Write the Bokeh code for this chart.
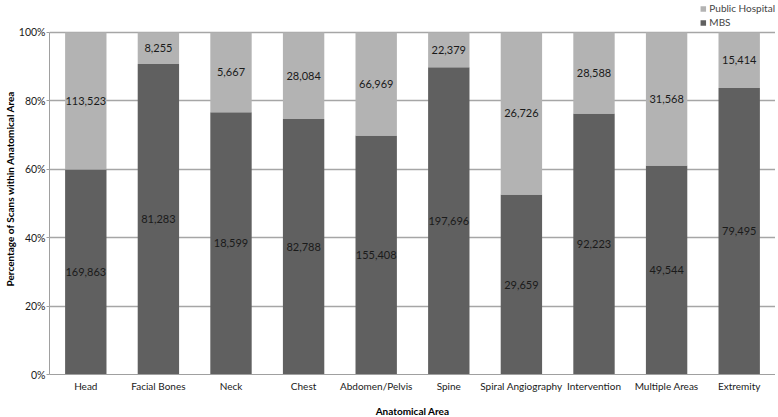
from bokeh.plotting import figure
from bokeh.models import ColumnDataSource, Legend, LegendItem, NumeralTickFormatter, FixedTicker, Range1d
from bokeh.embed import file_html
from bokeh.resources import INLINE
from bokeh.core.properties import value

categories = ["Head", "Facial Bones", "Neck", "Chest", "Abdomen/Pelvis", "Spine",
              "Spiral Angiography", "Intervention", "Multiple Areas", "Extremity"]
mbs = [169863, 81283, 18599, 82788, 155408, 197696, 29659, 92223, 49544, 79495]
public = [113523, 8255, 5667, 28084, 66969, 22379, 26726, 28588, 31568, 15414]

totals = [m + h for m, h in zip(mbs, public)]
mbs_pct = [m / t for m, t in zip(mbs, totals)]
pub_pct = [h / t for h, t in zip(public, totals)]

src = ColumnDataSource(dict(
    cat=categories,
    mbs=mbs_pct,
    pub=pub_pct,
    top=[1.0] * len(categories),
    mbs_mid=[v / 2 for v in mbs_pct],
    pub_mid=[v + (1 - v) / 2 for v in mbs_pct],
    mbs_lbl=[f"{v:,}" for v in mbs],
    pub_lbl=[f"{v:,}" for v in public],
))

FONT = "Lato"
DARK = "#606060"
LIGHT = "#b3b3b3"
FW = 726
FH = 372

p = figure(x_range=categories, frame_width=FW, frame_height=FH, output_backend="svg",
           toolbar_location=None, min_border_left=0, min_border_right=0,
           min_border_top=2, min_border_bottom=0)
p.y_range = Range1d(0, 1.0875)
p.x_range.range_padding = 0

r_mbs = p.vbar(x="cat", bottom=0, top="mbs", width=0.57, source=src,
               fill_color=DARK, line_color=None)
r_pub = p.vbar(x="cat", bottom="mbs", top="top", width=0.57, source=src,
               fill_color=LIGHT, line_color=None)

p.text(x="cat", y="mbs_mid", text="mbs_lbl", source=src, text_align="center",
       text_baseline="middle", text_font=value(FONT), text_font_size="11px",
       text_color="#1a1a1a")
p.text(x="cat", y="pub_mid", text="pub_lbl", source=src, text_align="center",
       text_baseline="middle", text_font=value(FONT), text_font_size="11px",
       text_color="#1a1a1a")

p.yaxis.ticker = FixedTicker(ticks=[0, 0.2, 0.4, 0.6, 0.8, 1.0])
p.yaxis.formatter = NumeralTickFormatter(format="0%")
p.yaxis.bounds = (0, 1)
p.yaxis.axis_label = "Percentage of Scans within Anatomical Area"
p.xaxis.axis_label = "Anatomical Area"

for ax in (p.xaxis, p.yaxis):
    ax.axis_label_text_font = FONT
    ax.axis_label_text_font_style = "bold"
    ax.axis_label_text_font_size = "10px"
    ax.axis_label_text_color = "#000000"
    ax.major_label_text_font = FONT
    ax.major_label_text_font_size = "10.5px"
    ax.major_label_text_color = "#1a1a1a"
    ax.axis_line_color = "#a0a0a0"
    ax.minor_tick_line_color = None

p.xaxis.major_label_text_font_size = "10px"
p.yaxis.major_tick_line_color = "#a0a0a0"
p.yaxis.major_tick_in = 0
p.yaxis.major_tick_out = 3
p.yaxis.major_label_standoff = 1
p.yaxis.axis_label_standoff = 0
p.xaxis.major_tick_line_color = None
p.xaxis.major_tick_in = 0
p.xaxis.major_tick_out = 0
p.xaxis.major_label_standoff = 5
p.xaxis.axis_label_standoff = 10

p.xgrid.grid_line_color = None
p.ygrid.grid_line_color = "#a6a6a6"
p.ygrid.grid_line_width = 1.5
p.ygrid.bounds = (0, 1)
p.outline_line_color = None

legend = Legend(items=[LegendItem(label="Public Hospital", renderers=[r_pub]),
                       LegendItem(label="MBS", renderers=[r_mbs])],
                location="top_right", orientation="vertical",
                label_text_font=FONT, label_text_font_size="10px",
                label_height=10, glyph_height=7, glyph_width=7,
                label_standoff=3, spacing=2, padding=1, margin=0,
                border_line_color=None, background_fill_alpha=0)
p.add_layout(legend)

open("out.html", "w").write(file_html(p, INLINE))
